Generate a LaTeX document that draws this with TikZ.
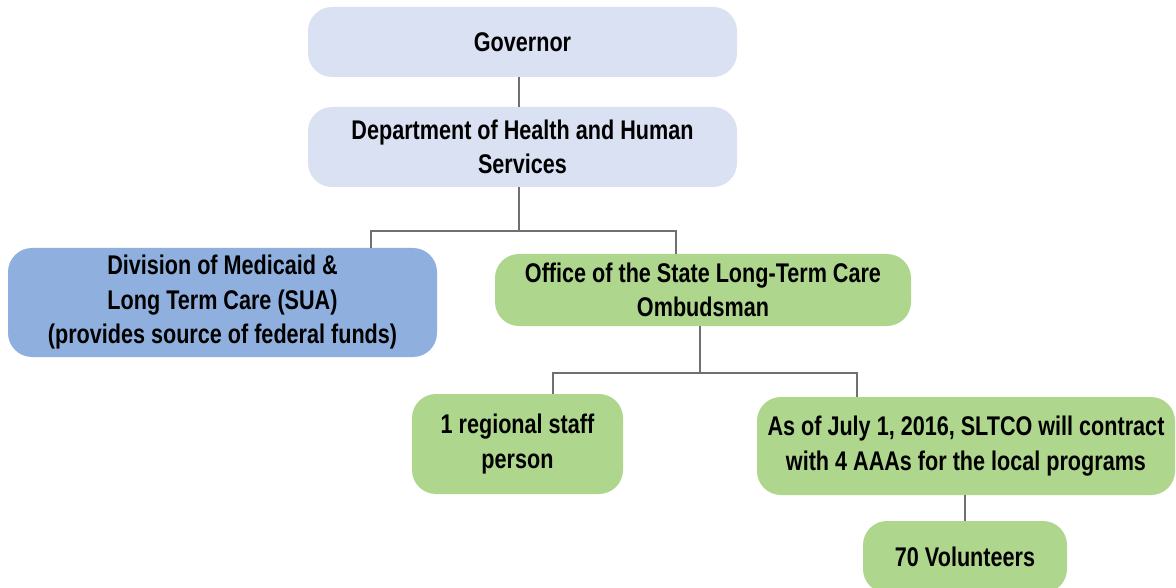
\documentclass[tikz,border=0pt]{standalone}
\usepackage{fontspec}
\setmainfont{Liberation Sans}[FakeStretch=0.8]
\definecolor{govblue}{RGB}{217,225,242}
\definecolor{divblue}{RGB}{143,176,222}
\definecolor{leafgreen}{RGB}{174,214,140}
\definecolor{linegray}{RGB}{112,112,112}
\begin{document}
\begin{tikzpicture}[x=1pt,y=-1pt,
  orgbox/.style={rounded corners=24pt, inner sep=0pt, align=center,
    font=\fontsize{27}{34.5}\selectfont\bfseries},
  conn/.style={draw=linegray, line width=2.6pt}]
\useasboundingbox (0,0) rectangle (1176,588);
\clip (0,0) rectangle (1176,588);
\node[orgbox, fill=govblue, minimum width=429pt, minimum height=70pt] (gov) at (522.5,42) {\raisebox{-2pt}{Governor}};
\node[orgbox, fill=govblue, minimum width=429pt, minimum height=80pt] (dhhs) at (522.5,147) {Department of Health and Human\\Services};
\node[orgbox, fill=divblue, minimum width=429pt, minimum height=109pt] (div) at (222.5,302.5) {Division of Medicaid \&\\Long Term Care (SUA)\\(provides source of federal funds)};
\node[orgbox, fill=leafgreen, minimum width=416pt, minimum height=72pt] (off) at (703,290) {Office of the State Long-Term Care\\Ombudsman};
\node[orgbox, fill=leafgreen, minimum width=211pt, minimum height=100pt] (reg) at (517.5,444) {1 regional staff\\person};
\node[orgbox, fill=leafgreen, minimum width=418pt, minimum height=98pt] (aaa) at (966,446) {As of July 1, 2016, SLTCO will contract\\with 4 AAAs for the local programs};
\node[orgbox, fill=leafgreen, minimum width=204pt, minimum height=72pt] (vol) at (965,557) {70 Volunteers};
\coordinate (t) at (519,231);
\coordinate (tl) at (371,231);
\coordinate (tr) at (676,231);
\coordinate (m) at (700,373);
\coordinate (ml) at (553,373);
\coordinate (mr) at (857,373);
\draw[conn] (gov.south -| t) -- (dhhs.north -| t);
\draw[conn] (dhhs.south -| t) -- (t);
\draw[conn] (div.north -| tl) -- (tl) -- (tr) -- (off.north -| tr);
\draw[conn] (off.south -| m) -- (m);
\draw[conn] (reg.north -| ml) -- (ml) -- (mr) -- (aaa.north -| mr);
\draw[conn] (aaa.south -| vol.north) -- (vol.north);
\end{tikzpicture}
\end{document}
